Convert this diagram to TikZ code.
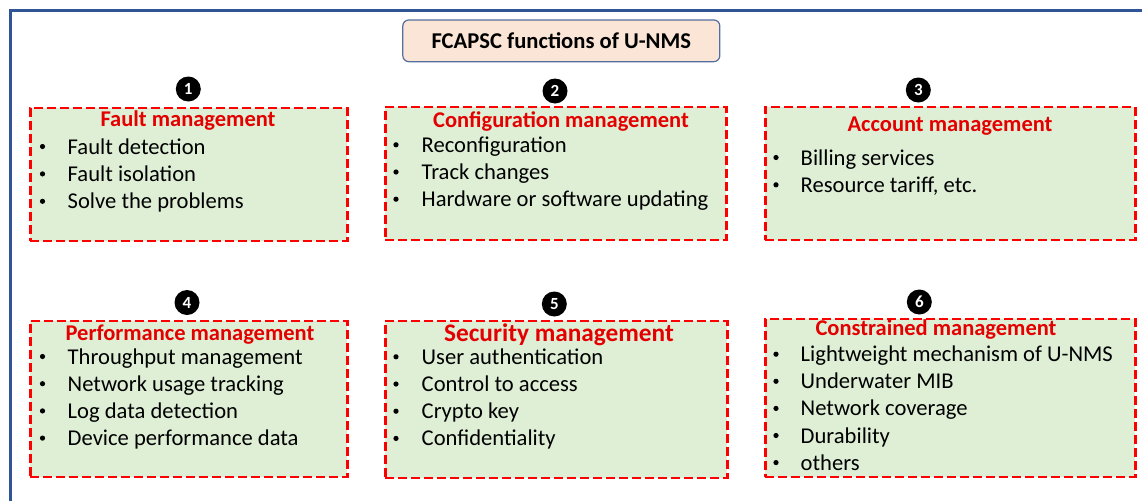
\documentclass[tikz,border=0pt]{standalone}
\usepackage{fontspec}
\setmainfont{Carlito}
\usepackage{tikz}
\usetikzlibrary{positioning}
\usepackage{xcolor}
\definecolor{framebl}{RGB}{47,85,151}
\definecolor{boxred}{RGB}{255,0,0}
\definecolor{headred}{RGB}{228,0,0}
\definecolor{boxgreen}{RGB}{222,239,214}
\definecolor{titlefill}{RGB}{251,229,214}
\definecolor{titleline}{RGB}{84,110,160}

\begin{document}
\begin{tikzpicture} [x=1pt, y=-1pt,
	mgmtbox/.style={draw=boxred, fill=boxgreen, line width=2.6pt, dash pattern=on 9pt off 4pt, anchor=north west, inner sep=0pt},
	heading/.style={text=headred, font=\bfseries\fontsize{22.5}{27}\selectfont, anchor=base, inner sep=0pt},
	item/.style={font=\fontsize{22.6}{27}\selectfont, anchor=base west, inner sep=0pt},
	dotmark/.style={circle, fill=black, minimum size=5.2pt, inner sep=0pt},
	numdisc/.style={circle, fill=black, minimum size=25pt, inner sep=0pt, text=white, font=\bfseries\fontsize{17}{17}\selectfont}]
										\useasboundingbox (0, 0) rectangle (1142, 501);
										\draw [framebl, line width=3pt] (1142, 10.5)--(10.5, 10.5)--(10.5, 501);
										\node [draw=titleline, fill=titlefill, rounded corners=6pt, line width=1.2pt, minimum width=317pt, minimum height=41.7pt, font=\bfseries\fontsize{22.6}{27}\selectfont] (title) at (561.3, 40.8) {FCAPSC functions of U-NMS};
										\node [mgmtbox, minimum width=317pt, minimum height=133pt] (fault) at (29, 106.5) {};
										\node [mgmtbox, minimum width=341pt, minimum height=133pt] (config) at (384, 105.5) {};
										\node [mgmtbox, minimum width=370pt, minimum height=133pt] (account) at (764, 105.5) {};
										\node [mgmtbox, minimum width=317pt, minimum height=156pt] (perf) at (29, 319.5) {};
										\node [mgmtbox, minimum width=342pt, minimum height=157pt] (secur) at (384, 319.5) {};
										\node [mgmtbox, minimum width=370pt, minimum height=158pt] (constr) at (764, 317.5) {};
										\node [numdisc] (n1) at (188.3, 89) {1};
										\node [numdisc] (n2) at (555, 91) {2};
										\node [numdisc] (n3) at (918.3, 90) {3};
										\node [numdisc] (n4) at (187, 302.5) {4};
										\node [numdisc] (n5) at (554.3, 304) {5};
										\node [numdisc] (n6) at (919.3, 302) {6};
										\node [heading] (fault-h) at (188, 126) {Fault management};
										\node [heading] (config-h) at (561, 127.3) {Configuration management};
										\node [heading] (account-h) at (950, 131) {Account management};
										\node [heading] (perf-h) at (190, 340) {Performance management};
										\node [heading, font=\bfseries\fontsize{25.3}{30}\selectfont] (secur-h) at (559, 341.7) {Security management};
										\node [heading] (constr-h) at (936, 335) {Constrained management};
										\foreach \txt [count=\i] in {Fault detection, Fault isolation, Solve the problems} {
											\node [dotmark] at (42.5, {146.5+27.4*(\i-1)}) {};
											\node [item] (fault-\i) at (67.5, {154+27.4*(\i-1)}) {\txt};
										}
										\foreach \txt [count=\i] in {Reconfiguration, Track changes, Hardware or software updating} {
											\node [dotmark] at (396, {144.8+27.2*(\i-1)}) {};
											\node [item] (config-\i) at (421.5, {152.3+27.2*(\i-1)}) {\txt};
										}
										\foreach \txt [count=\i] in {Billing services, {Resource tariff, etc.}} {
											\node [dotmark] at (776, {157.5+27.3*(\i-1)}) {};
											\node [item] (account-\i) at (800.5, {165+27.3*(\i-1)}) {\txt};
										}
										\foreach \txt [count=\i] in {Throughput management, Network usage tracking, Log data detection, Device performance data} {
											\node [dotmark] at (42.5, {356.5+27.2*(\i-1)}) {};
											\node [item] (perf-\i) at (67.5, {364+27.2*(\i-1)}) {\txt};
										}
										\foreach \txt [count=\i] in {User authentication, Control to access, Crypto key, Confidentiality} {
											\node [dotmark] at (396, {356.8+27.2*(\i-1)}) {};
											\node [item] (secur-\i) at (421.5, {364.3+27.2*(\i-1)}) {\txt};
										}
										\foreach \txt [count=\i] in {Lightweight mechanism of U-NMS, Underwater MIB, Network coverage, Durability, others} {
											\node [dotmark] at (776, {354.2+27.1*(\i-1)}) {};
											\node [item] (constr-\i) at (800.5, {361.7+27.1*(\i-1)}) {\txt};
										}
									\end{tikzpicture}
\end{document}
